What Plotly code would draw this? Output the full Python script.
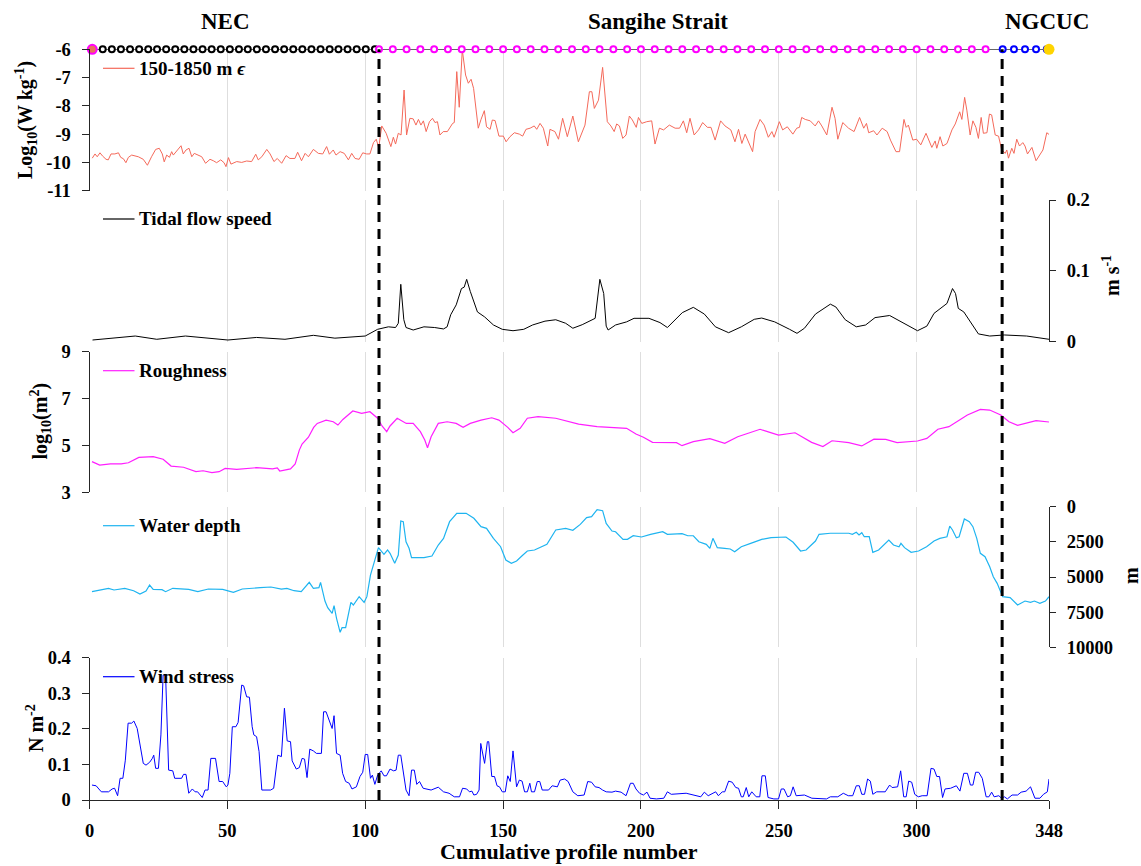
import plotly.graph_objects as go

# ---------------- data ----------------
EPS_X = [1.0,2.0,2.8,3.8,4.7,6.0,6.8,7.8,9.2,10.5,
         11.3,12.3,13.2,14.1,15.3,16.3,17.7,19.5,21.0,22.5,
         24.0,25.3,26.4,27.1,28.0,29.0,29.8,30.4,31.6,33.2,
         34.0,35.0,36.1,37.1,38.0,39.5,40.7,42.1,43.7,44.9,
         46.1,47.6,48.8,49.5,50.4,51.3,53.4,55.2,57.0,58.8,
         60.3,61.2,62.5,64.3,65.5,66.9,68.1,69.7,71.3,72.7,
         74.5,75.5,76.9,78.2,79.4,81.2,83.0,84.6,86.0,87.0,
         88.4,89.4,90.9,92.4,93.9,95.1,96.3,97.8,99.1,100.5,
         101.7,103.0,104.0,104.9,106.0,107.6,109.3,110.2,111.0,112.0,
         113.0,114.1,115.0,116.2,117.4,118.4,119.3,120.2,121.1,122.1,
         123.3,124.4,125.3,126.2,127.1,128.3,129.8,131.7,132.3,133.2,
         134.1,135.2,136.4,137.4,138.4,139.3,141.0,142.0,143.2,144.0,
         145.3,146.1,147.1,148.5,150.1,151.1,152.5,154.1,155.9,157.1,
         158.3,159.8,161.3,162.2,163.4,164.6,166.2,167.0,168.8,170.1,
         171.6,173.3,175.3,177.3,179.7,181.3,182.2,183.1,184.6,186.1,
         187.8,189.1,190.3,191.2,192.2,193.4,194.6,195.8,196.9,198.3,
         199.1,200.3,202.1,203.9,205.1,206.7,208.2,210.3,212.4,214.0,
         215.4,216.6,217.8,219.3,220.9,222.4,224.1,225.4,226.9,228.9,
         230.5,232.6,234.1,235.4,236.6,237.8,
         240.5,241.4,243.2,244.7,246.2,247.5,248.3,250.2,251.4,253.1,
         255.1,256.5,257.5,258.3,259.6,261.4,263.2,264.4,265.6,267.4,
         269.3,270.4,271.4,273.2,275.3,277.3,279.3,280.8,281.8,282.6,
         284.4,285.6,287.5,289.3,290.5,292.5,293.8,295.4,296.2,297.0,
         298.6,300.0,301.5,303.4,305.5,306.7,307.3,308.5,309.5,311.0,
         312.8,314.0,315.6,316.4,317.4,318.2,319.4,320.4,321.5,322.4,
         323.4,324.2,325.5,326.4,327.2,328.5,329.7,330.8,332.1,332.7,
         333.3,334.5,335.3,336.3,337.3,338.5,339.3,340.2,341.8,343.3,
         344.5,345.8,347.2,348.0]
EPS_Y = [-9.85,-9.70,-9.80,-9.66,-9.77,-9.89,-9.91,-9.70,-9.70,-9.66,
         -9.82,-9.87,-10.01,-9.82,-9.74,-9.77,-9.80,-9.89,-10.10,-9.80,
         -9.54,-9.50,-9.70,-9.98,-9.74,-9.82,-9.62,-9.74,-9.58,-9.41,
         -9.70,-9.56,-9.50,-9.80,-9.68,-9.75,-9.80,-10.03,-9.89,-9.94,
         -10.01,-9.91,-10.01,-10.15,-9.83,-10.06,-9.97,-10.00,-9.95,-9.97,
         -9.71,-9.91,-9.80,-9.54,-9.70,-9.97,-9.86,-10.03,-9.76,-9.86,
         -9.86,-9.64,-9.94,-9.68,-9.80,-9.54,-9.68,-9.70,-9.44,-9.71,
         -9.56,-9.74,-9.62,-9.68,-9.91,-9.68,-9.86,-9.89,-9.66,-9.70,
         -9.70,-9.30,-9.18,-9.48,-8.71,-8.97,-9.44,-9.11,-9.35,-8.97,
         -9.03,-7.44,-9.03,-8.44,-8.46,-8.68,-8.48,-8.68,-8.53,-8.91,
         -8.56,-8.44,-8.59,-8.56,-9.03,-8.91,-8.91,-8.62,-8.59,-6.79,
         -8.05,-6.02,-6.91,-7.20,-7.06,-7.38,-8.79,-8.48,-8.17,-8.74,
         -8.83,-8.50,-8.52,-9.07,-9.07,-9.27,-9.09,-8.95,-9.00,-9.07,
         -8.83,-8.79,-8.71,-8.83,-8.62,-8.79,-9.42,-8.83,-8.91,-9.18,
         -8.44,-9.09,-8.36,-9.27,-8.68,-7.50,-7.50,-8.09,-7.80,-6.64,
         -8.56,-8.71,-8.91,-8.64,-8.71,-9.15,-9.03,-8.36,-8.50,-8.76,
         -8.41,-8.62,-8.56,-8.53,-9.35,-8.79,-8.85,-8.68,-8.79,-8.79,
         -8.53,-8.95,-8.44,-9.03,-8.85,-8.59,-8.76,-8.76,-9.21,-8.53,
         -8.71,-8.85,-9.27,-8.83,-9.33,-9.00,
         -9.62,-8.91,-8.48,-8.68,-9.11,-8.91,-9.11,-8.56,-8.85,-8.74,
         -9.00,-8.79,-8.76,-8.41,-8.48,-8.53,-8.71,-8.53,-8.71,-9.03,
         -8.05,-8.44,-9.18,-8.59,-8.79,-8.91,-8.41,-8.79,-8.62,-8.95,
         -8.88,-9.03,-8.79,-8.91,-9.21,-9.62,-9.62,-8.48,-8.76,-8.68,
         -9.21,-9.18,-9.38,-8.97,-9.47,-9.24,-9.50,-9.09,-9.42,-9.33,
         -8.85,-8.64,-8.21,-8.48,-7.70,-8.15,-9.03,-8.53,-8.76,-9.15,
         -8.41,-8.97,-8.95,-8.29,-8.32,-9.03,-9.07,-9.54,-9.68,-9.56,
         -9.85,-9.50,-9.68,-9.18,-9.42,-9.30,-9.42,-9.70,-9.47,-9.94,
         -9.74,-9.56,-8.95,-9.01]

TIDE_X = [1.1,16.6,24.4,34.8,50.2,60.6,70.9,81.2,89.0,100.0,
          104.5,108.4,111.0,112.0,112.9,114.0,114.8,117.4,121.3,125.2,
          128.4,129.7,131.0,133.0,134.9,135.9,136.8,138.1,140.7,143.3,
          146.5,149.7,153.6,157.5,160.7,165.2,169.1,
          172.7,175.3,178.7,183.4,185.1,186.5,187.4,188.1,190.8,194.8,
          197.5,202.9,206.9,209.6,212.3,215.0,219.0,223.0,227.0,231.8,
          236.4,241.1,243.8,248.5,253.9,256.6,259.3,263.3,268.7,270.7,
          274.1,278.1,281.5,284.9,290.2,294.3,300.3,303.7,306.3,311.0,
          313.0,314.1,315.1,317.1,319.8,322.4,326.5,331.8,339.9,348.0]
TIDE_Y = [0.0024,0.008,0.0034,0.008,0.0024,0.006,0.0034,0.009,0.005,0.008,
          0.0175,0.021,0.020,0.026,0.081,0.031,0.020,0.0165,0.021,0.020,
          0.018,0.021,0.038,0.052,0.075,0.077,0.088,0.071,0.042,0.035,
          0.0236,0.0175,0.0155,0.0175,0.0236,0.029,0.031,
          0.026,0.019,0.024,0.033,0.088,0.068,0.022,0.0165,0.0236,0.028,
          0.033,0.033,0.027,0.020,0.031,0.041,0.0485,0.039,0.021,0.0127,
          0.021,0.0316,0.0334,0.028,0.0175,0.0118,0.019,0.039,0.053,0.049,
          0.031,0.021,0.0236,0.034,0.037,0.028,0.0155,0.022,0.040,0.054,
          0.075,0.068,0.047,0.042,0.026,0.011,0.008,0.0095,0.008,0.0034]

ROUGH_X = [0.9,3.7,7.6,11.5,14.1,17.9,23.1,26.7,29.6,34.1,
           38.6,41.2,44.4,47.0,49.2,53.4,60.6,66.4,68.1,69.0,
           72.9,74.6,76.1,77.1,79.4,81.3,82.6,85.8,88.4,90.1,
           91.9,95.5,98.7,101.7,104.5,106.1,107.8,109.0,111.6,114.9,
           117.4,120.0,121.6,122.6,123.9,126.5,129.7,133.0,135.5,138.1,
           142.0,145.9,148.5,151.7,153.6,156.2,158.8,162.7,169.1,
           177.4,184.1,194.8,198.2,200.9,204.2,212.9,214.9,219.0,225.0,
           230.4,235.1,239.1,243.2,245.9,249.9,255.9,261.9,266.0,269.3,
           275.4,280.1,284.5,288.8,292.9,300.3,303.7,307.7,311.7,315.1,
           318.4,323.1,326.5,330.5,333.5,336.6,343.3,348.0]
ROUGH_Y = [4.31,4.16,4.21,4.21,4.26,4.49,4.52,4.41,4.12,4.07,
           3.88,3.92,3.84,3.88,4.02,3.98,4.05,4.00,4.04,3.91,
           4.00,4.21,4.80,5.06,5.35,5.77,5.94,6.08,6.01,5.87,
           6.11,6.47,6.37,6.44,6.16,5.83,5.59,5.83,6.16,5.94,
           5.94,5.59,5.23,4.90,5.37,5.94,6.01,5.94,5.77,5.94,
           6.08,6.18,6.08,5.77,5.54,5.73,6.16,6.23,6.16,
           5.91,5.80,5.73,5.49,5.35,5.13,5.12,4.99,5.16,5.29,
           5.09,5.37,5.52,5.69,5.59,5.44,5.54,5.13,4.95,5.20,
           5.12,4.98,5.27,5.26,5.12,5.19,5.30,5.69,5.80,6.06,
           6.30,6.54,6.51,6.30,6.01,5.86,6.06,6.00]

DEPTH_X = [0.9,3.7,6.9,8.9,12.8,16.0,18.3,20.5,21.8,23.1,
           26.3,27.6,30.2,36.0,39.3,43.1,48.3,52.2,55.4,61.9,
           65.8,69.6,71.6,74.2,76.8,79.7,81.2,83.2,83.8,85.4,
           86.4,88.0,88.7,89.6,90.9,91.6,92.9,94.8,95.7,97.8,
           99.6,100.6,101.9,104.8,106.8,108.1,109.0,110.7,112.0,112.9,
           113.8,114.8,115.9,116.8,121.3,124.2,126.5,128.4,130.6,133.2,
           136.6,139.4,142.0,144.0,146.5,149.1,151.0,153.0,154.9,156.9,
           158.8,161.4,164.0,165.9,169.1,
           172.7,175.3,178.0,180.3,182.1,184.1,186.1,187.4,189.5,190.8,
           193.5,195.1,197.2,200.2,203.5,207.9,209.6,214.9,217.0,219.0,
           221.0,223.7,225.0,226.1,227.7,230.4,232.4,234.0,236.4,239.8,
           243.8,247.2,252.6,255.2,257.9,259.9,263.3,264.6,268.7,275.4,
           276.7,278.1,279.1,280.1,281.0,282.8,284.1,286.2,288.2,289.9,
           291.6,293.6,294.3,295.6,298.0,300.7,303.6,306.3,308.4,311.0,
           312.0,313.0,314.4,315.4,317.3,319.1,320.4,321.8,323.1,324.8,
           326.5,327.8,329.2,331.2,333.9,336.6,339.3,341.3,342.7,344.7,
           346.7,348.0]
DEPTH_Y = [6045,5925,5805,5925,5805,5975,6210,5995,5570,5875,
           5900,6045,5805,5875,6045,5855,5875,6090,5855,5760,
           5710,5855,5805,5975,6045,5380,5805,5760,5380,6710,
           7185,7585,7040,7940,8935,8605,8605,6800,6990,6400,
           6800,6400,4860,2915,3385,3080,3315,4025,3435,1015,
           1065,2490,2960,3625,3625,3505,2725,2250,1065,470,
           470,825,1420,1540,2250,2845,3790,4025,3860,3485,
           3150,3080,2845,2675,1655,
           1540,1680,1255,780,710,215,285,1185,1730,1780,
           2320,2320,2065,2155,1965,1780,1965,1920,2065,2065,
           2490,2675,2960,2250,2915,2960,3010,3200,2845,2605,
           2320,2205,2155,2530,3150,3080,2440,1965,1890,1890,
           1965,1820,2010,1850,2135,2135,3245,3080,2725,2370,
           2725,2845,2605,2915,3245,3150,2845,2440,2250,2135,
           1375,1655,2205,2135,875,1065,1420,2250,3315,3555,
           4270,4980,5450,6400,6470,6990,6710,6800,6710,6870,
           6710,6400]

WIND_X = [0.9,2.4,3.4,4.3,6.9,8.2,9.1,10.2,11.1,12.1,
          13.0,14.0,15.3,16.1,17.3,18.6,19.5,20.5,21.8,22.8,
          23.3,24.0,25.0,25.9,26.7,27.6,28.7,30.2,30.9,33.4,
          34.1,35.0,36.0,37.3,38.3,39.2,40.9,41.9,43.0,44.0,
          45.7,47.0,48.3,49.6,50.2,50.9,51.8,53.1,53.9,55.2,
          55.9,57.0,58.0,59.0,59.6,60.6,61.5,62.5,65.7,66.8,
          68.3,69.6,70.7,71.7,72.9,73.5,75.0,76.1,77.1,78.0,
          78.9,79.9,81.2,82.3,84.1,84.9,85.8,88.0,88.7,89.6,
          90.9,91.8,92.9,94.2,95.2,96.8,98.1,99.1,100.0,100.9,
          101.9,102.6,103.5,104.5,105.8,106.8,107.7,109.0,110.3,111.2,
          112.0,112.9,114.8,115.9,116.8,117.8,118.7,119.7,121.0,123.9,
          126.5,128.4,130.4,132.3,134.2,135.3,136.8,137.8,138.7,139.4,
          140.4,141.3,141.9,143.3,144.3,144.8,145.9,146.9,147.8,148.7,
          149.7,150.8,151.7,152.6,153.6,154.9,155.9,156.9,157.8,158.8,
          159.7,160.3,161.4,162.4,163.3,164.2,166.5,167.8,169.7,
          170.7,172.3,173.6,175.3,177.1,179.4,180.7,182.1,183.4,184.8,
          186.1,187.4,189.5,190.8,192.8,194.6,196.2,197.2,198.2,199.5,
          200.9,202.2,203.3,205.6,208.3,209.6,211.0,216.4,221.7,223.0,
          224.4,227.1,228.1,229.5,230.4,231.8,233.1,234.4,235.4,236.4,
          237.1,238.2,239.1,240.2,241.8,243.1,243.9,245.1,246.1,248.2,
          249.9,250.9,251.9,253.2,254.2,255.2,256.3,257.6,259.3,262.0,
          267.3,268.7,271.4,273.4,275.2,276.8,278.1,279.2,280.1,281.1,
          282.2,283.2,284.1,285.5,288.6,290.2,291.1,293.1,294.2,295.3,
          296.2,297.1,298.2,299.3,300.6,302.0,303.8,305.2,306.3,307.3,
          308.3,309.4,310.3,312.3,314.4,315.7,317.1,318.4,319.5,320.4,
          321.4,322.5,323.8,325.2,326.2,327.2,328.1,329.8,330.8,331.8,
          332.9,334.6,336.6,337.9,339.7,341.3,342.9,344.7,346.0,347.4,
          348.0]
WIND_Y = [0.042,0.040,0.031,0.023,0.023,0.031,0.033,0.012,0.061,0.061,
          0.112,0.216,0.216,0.222,0.201,0.136,0.103,0.098,0.106,0.117,
          0.126,0.089,0.089,0.183,0.351,0.351,0.084,0.082,0.061,0.061,
          0.072,0.072,0.019,0.031,0.023,0.023,0.007,0.028,0.028,0.117,
          0.117,0.052,0.052,0.037,0.042,0.075,0.206,0.206,0.218,0.323,
          0.321,0.290,0.289,0.206,0.183,0.178,0.136,0.028,0.028,0.033,
          0.126,0.122,0.258,0.166,0.164,0.110,0.087,0.091,0.117,0.115,
          0.063,0.143,0.138,0.131,0.131,0.248,0.248,0.201,0.237,0.131,
          0.126,0.075,0.052,0.047,0.031,0.037,0.066,0.078,0.128,0.128,
          0.061,0.070,0.044,0.070,0.082,0.068,0.068,0.087,0.082,0.084,
          0.126,0.126,0.028,0.012,0.084,0.084,0.044,0.052,0.033,0.028,
          0.036,0.023,0.019,0.009,0.009,0.033,0.031,0.023,0.025,0.014,
          0.016,0.028,0.159,0.103,0.164,0.164,0.066,0.066,0.040,0.037,
          0.023,0.023,0.068,0.052,0.138,0.037,0.056,0.053,0.023,0.023,
          0.047,0.023,0.023,0.052,0.052,0.028,0.028,0.040,0.037,
          0.056,0.059,0.052,0.023,0.012,0.014,0.052,0.050,0.037,0.035,
          0.028,0.023,0.022,0.025,0.022,0.012,0.047,0.047,0.031,0.019,
          0.014,0.022,0.005,0.003,0.005,0.023,0.016,0.019,0.009,0.022,
          0.012,0.023,0.012,0.023,0.023,0.053,0.050,0.035,0.033,0.009,
          0.009,0.035,0.009,0.023,0.009,0.009,0.068,0.068,0.007,0.003,
          0.003,0.031,0.031,0.009,0.012,0.037,0.012,0.012,0.014,0.005,
          0.003,0.009,0.009,0.019,0.012,0.012,0.040,0.040,0.016,0.016,
          0.059,0.053,0.016,0.023,0.023,0.042,0.035,0.037,0.082,0.009,
          0.009,0.053,0.050,0.016,0.009,0.012,0.012,0.089,0.087,0.066,
          0.066,0.007,0.031,0.033,0.040,0.025,0.075,0.075,0.042,0.042,
          0.078,0.078,0.061,0.009,0.009,0.022,0.009,0.012,0.005,0.009,
          0.003,0.014,0.014,0.022,0.025,0.037,0.005,0.005,0.016,0.023,
          0.059]

# profile stations on the track line
TRACK_LEVEL = -6
START_X = [1]
END_X = [348]
BLACK_X = [4.8, 8.1, 11.4, 14.7, 18.0, 21.3, 24.5, 27.8, 31.1, 34.4, 37.7, 41.0, 44.3,
           47.6, 50.9, 54.2, 57.4, 60.7, 64.0, 67.3, 70.6, 73.9, 77.2, 80.5, 83.8, 87.1,
           90.3, 93.6, 96.9, 100.2, 103.5]
MAGENTA_X = [105, 110, 115, 120, 125, 130, 135, 140, 145, 150, 155, 160, 165, 170, 175,
             180, 185, 190, 195, 200, 205, 210, 215, 220, 225, 230, 235, 240, 245, 250,
             255, 260, 265, 270, 275, 280, 285, 290, 295, 300, 305, 310, 315, 320, 325]
BLUE_X = [331.2, 335.3, 339.3, 343.3, 347.2]
DIVIDERS = [105, 331]

REGIONS = ["NEC", "Sangihe Strait", "NGCUC"]
X_TICKS = [0, 50, 100, 150, 200, 250, 300, 348]

# ---------------- layout constants ----------------
W, H = 1141, 866
PX_L, PX_R = 89.5, 1049.0
PANELS = [(49.3, 190.7), (200.0, 341.7), (351.7, 492.3), (506.7, 647.3), (657.7, 800.0)]
FONT = "Liberation Serif"
AXC = "#262626"
GRID = "#DEDEDE"
TICKF = dict(family=FONT, size=18.5, color="black", weight="bold")


def ydom(i):
    top, bot = PANELS[i]
    return [1 - bot / H, 1 - top / H]


def pfy(py):
    return 1 - py / H


fig = go.Figure()

allx = START_X + BLACK_X + MAGENTA_X + BLUE_X + END_X
fig.add_trace(go.Scatter(x=EPS_X, y=EPS_Y, mode="lines", line=dict(color="#F4695A", width=1),
                         xaxis="x", yaxis="y", showlegend=False))
fig.add_trace(go.Scatter(x=allx, y=[TRACK_LEVEL] * len(allx), mode="lines",
                         line=dict(color="#333333", width=1.5), xaxis="x", yaxis="y",
                         showlegend=False, cliponaxis=False))
for xs, col in [(BLACK_X, "#000000"), (MAGENTA_X, "#FF00FF"), (BLUE_X, "#0000FF")]:
    fig.add_trace(go.Scatter(x=xs, y=[TRACK_LEVEL] * len(xs), mode="markers",
                             marker=dict(symbol="circle", size=6, color="white",
                                         line=dict(color=col, width=2)),
                             xaxis="x", yaxis="y", showlegend=False, cliponaxis=False))
fig.add_trace(go.Scatter(x=START_X, y=[TRACK_LEVEL], mode="markers",
                         marker=dict(size=9, color="#EA6F5C", line=dict(color="#FF00FF", width=2)),
                         xaxis="x", yaxis="y", showlegend=False, cliponaxis=False))
fig.add_trace(go.Scatter(x=END_X, y=[TRACK_LEVEL], mode="markers",
                         marker=dict(size=11, color="#FFD400", line=dict(width=0)),
                         xaxis="x", yaxis="y", showlegend=False, cliponaxis=False))

fig.add_trace(go.Scatter(x=TIDE_X, y=TIDE_Y, mode="lines", line=dict(color="black", width=1),
                         xaxis="x2", yaxis="y2", showlegend=False))
fig.add_trace(go.Scatter(x=ROUGH_X, y=ROUGH_Y, mode="lines", line=dict(color="#FF1EFF", width=1.2),
                         xaxis="x3", yaxis="y3", showlegend=False))
fig.add_trace(go.Scatter(x=DEPTH_X, y=DEPTH_Y, mode="lines", line=dict(color="#1EB4F0", width=1.2),
                         xaxis="x4", yaxis="y4", showlegend=False))
fig.add_trace(go.Scatter(x=WIND_X, y=WIND_Y, mode="lines", line=dict(color="#0000FF", width=1),
                         xaxis="x5", yaxis="y5", showlegend=False))

layout = dict(width=W, height=H, margin=dict(l=0, r=0, t=0, b=0, autoexpand=False),
              paper_bgcolor="white", plot_bgcolor="white",
              font=dict(family=FONT, size=18, color="black", weight="bold"),
              showlegend=False)

yspecs = [
    dict(range=[-11, -6], side="left", tickvals=[-11, -10, -9, -8, -7, -6],
         ticktext=["-11", "-10", "-9", "-8", "-7", "-6"]),
    dict(range=[0, 0.2], side="right", tickvals=[0, 0.1, 0.2], ticktext=["0", "0.1", "0.2"]),
    dict(range=[3, 9], side="left", tickvals=[3, 5, 7, 9], ticktext=["3", "5", "7", "9"]),
    dict(range=[10000, 0], side="right", tickvals=[0, 2500, 5000, 7500, 10000],
         ticktext=["0", "2500", "5000", "7500", "10000"]),
    dict(range=[0, 0.4], side="left", tickvals=[0, 0.1, 0.2, 0.3, 0.4],
         ticktext=["0", "0.1", "0.2", "0.3", "0.4"]),
]

for i in range(5):
    n = "" if i == 0 else str(i + 1)
    bottom = (i == 4)
    xa = dict(domain=[PX_L / W, PX_R / W], range=[0, 348], anchor="y" + n,
              showgrid=True, gridcolor=GRID, gridwidth=1, tickvals=X_TICKS,
              ticktext=[str(t) for t in X_TICKS], zeroline=False, automargin=False,
              showticklabels=bottom, showline=bottom, linecolor=AXC, linewidth=1,
              ticks="outside" if bottom else "", ticklen=8, tickcolor=AXC,
              tickfont=TICKF, ticklabelstandoff=6)
    ys = yspecs[i]
    ya = dict(domain=ydom(i), anchor="x" + n, showgrid=False, zeroline=False,
              automargin=False, showline=True, linecolor=AXC, linewidth=1, ticks="outside",
              ticklen=7 if ys["side"] == "left" else 6, tickcolor=AXC, tickfont=TICKF,
              ticklabelstandoff=7, **ys)
    layout["xaxis" + n] = xa
    layout["yaxis" + n] = ya

shapes = []
for d in DIVIDERS:
    shapes.append(dict(type="line", xref="x5", yref="paper", x0=d, x1=d,
                       y0=pfy(PANELS[4][1]), y1=pfy(PANELS[0][0]),
                       line=dict(color="black", width=3, dash="10px,7px")))

legend_items = [("150-1850 m <i>ϵ</i>", "#F4695A"), ("Tidal flow speed", "black"),
                ("Roughness", "#FF1EFF"), ("Water depth", "#1EB4F0"),
                ("Wind stress", "#0000FF")]
annotations = []
for i, (txt, col) in enumerate(legend_items):
    n = "" if i == 0 else str(i + 1)
    top, bot = PANELS[i]
    yl = 1 - 19.0 / (bot - top)
    shapes.append(dict(type="line", xref="x" + n + " domain", yref="y" + n + " domain",
                       x0=(103 - PX_L) / (PX_R - PX_L), x1=(134.5 - PX_L) / (PX_R - PX_L),
                       y0=yl, y1=yl, line=dict(color=col, width=1.2)))
    annotations.append(dict(text=txt, xref="x" + n + " domain", yref="y" + n + " domain",
                            x=(137 - PX_L) / (PX_R - PX_L), y=yl, xanchor="left",
                            yanchor="middle", showarrow=False,
                            font=dict(family=FONT, size=19, color="black", weight="bold")))

titles = [
    ("Log<sub>10</sub>(W kg<sup>-1</sup>)", 26, 120),
    ("m s<sup>-1</sup>", 1111, 276),
    ("log<sub>10</sub>(m<sup>2</sup>)", 41, 421.5),
    ("m", 1131, 576),
    ("N m<sup>-2</sup>", 35, 728),
]
for txt, px, py in titles:
    annotations.append(dict(text=txt, xref="paper", yref="paper", x=px / W, y=pfy(py),
                            xanchor="center", yanchor="middle", textangle=-90,
                            showarrow=False,
                            font=dict(family=FONT, size=20, color="black", weight="bold")))

for txt, px in zip(REGIONS, [225, 658, 1046.7]):
    annotations.append(dict(text=txt, xref="paper", yref="paper", x=px / W, y=pfy(22),
                            xanchor="center", yanchor="middle", showarrow=False,
                            font=dict(family=FONT, size=23, color="black", weight="bold")))

annotations.append(dict(text="Cumulative profile number", xref="paper", yref="paper",
                        x=569 / W, y=pfy(851), xanchor="center", yanchor="middle",
                        showarrow=False,
                        font=dict(family=FONT, size=22, color="black", weight="bold")))

layout["shapes"] = shapes
layout["annotations"] = annotations
fig.update_layout(**layout)

fig.write_html("out.html")
